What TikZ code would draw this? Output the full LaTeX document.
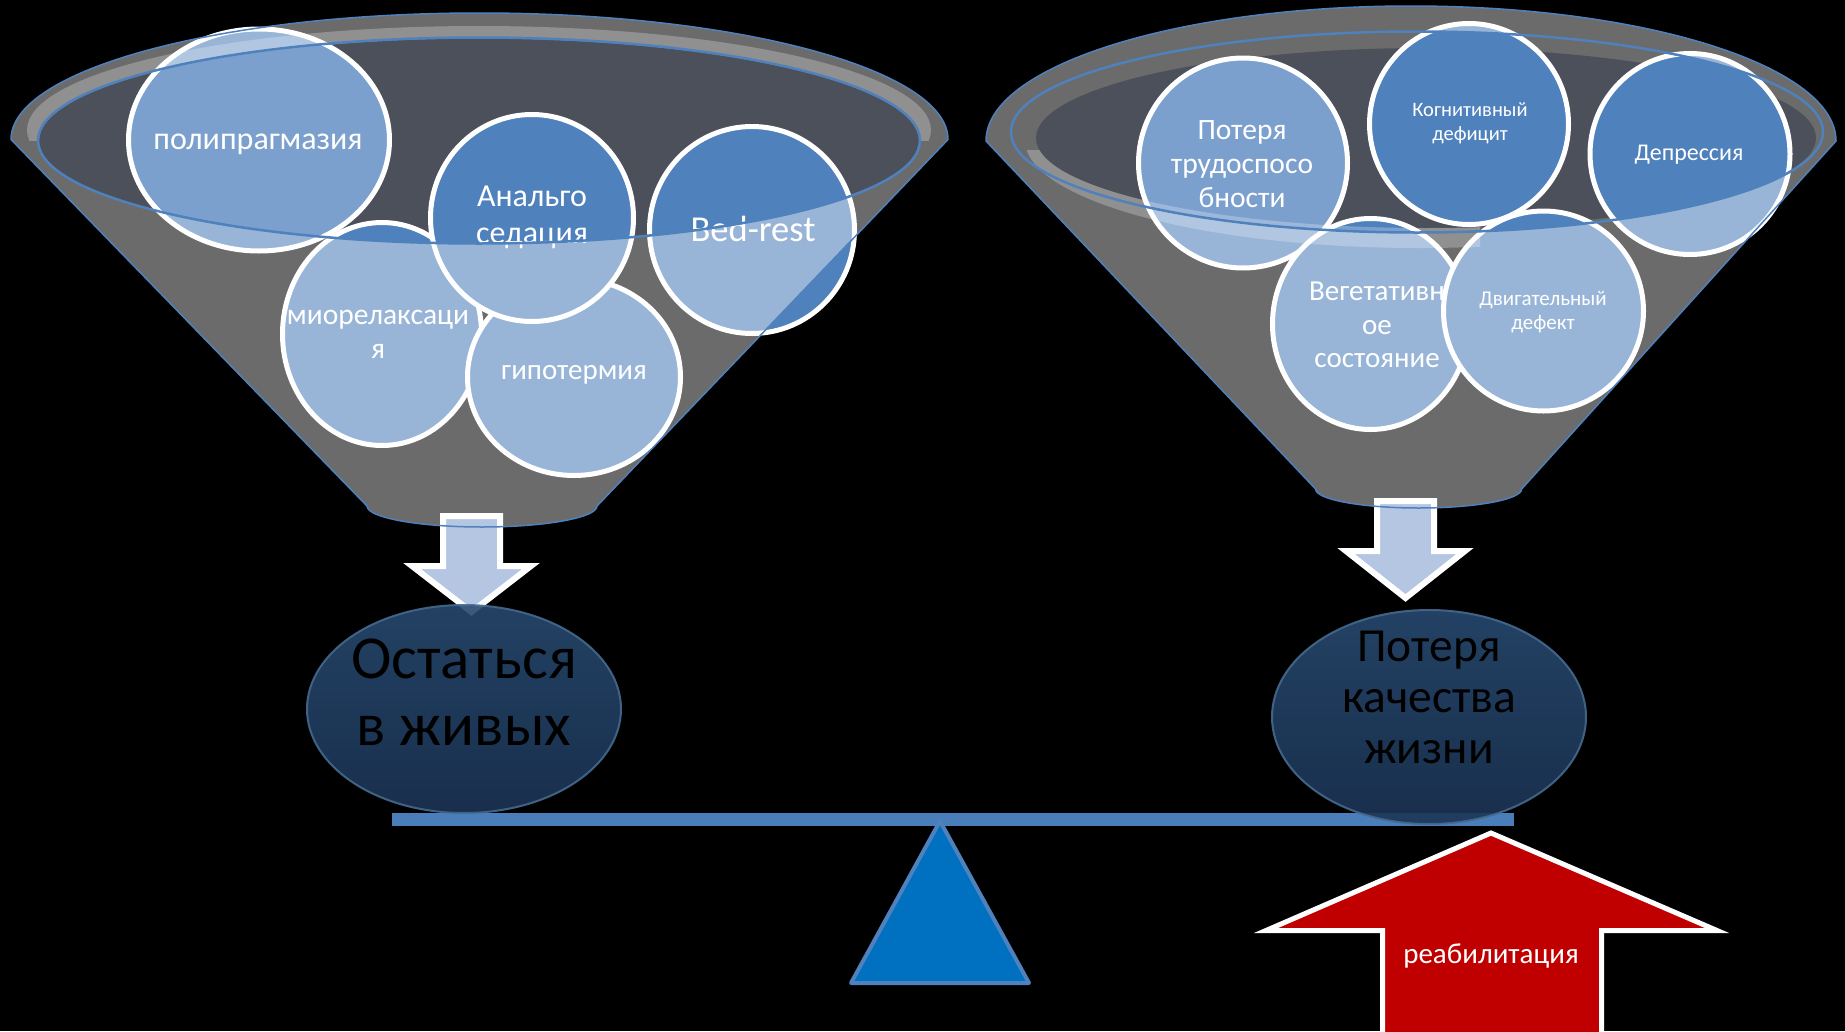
\documentclass[tikz,border=0pt]{standalone}
\usepackage{fontspec}
\setmainfont{Carlito}
\usetikzlibrary{shapes.geometric}
\definecolor{acc}{HTML}{4F81BD}
\definecolor{funnelgray}{HTML}{6B6B6B}
\definecolor{funneldark}{HTML}{4C505A}
\definecolor{arrowblue}{HTML}{B4C6E2}
\definecolor{barblue}{HTML}{4A7EBB}
\definecolor{fulcrum}{HTML}{0070C0}
\definecolor{redarrow}{HTML}{C00000}
\definecolor{navytop}{HTML}{27496F}
\definecolor{navybot}{HTML}{1C3455}
\definecolor{navyrim}{HTML}{456A8E}
\newcommand\myfs[1]{\fontsize{#1}{\dimexpr #1pt*115/100\relax}\selectfont}
\begin{document}
\begin{tikzpicture}[x=1pt,y=-1pt,
  bubble/.style={ellipse, draw=white, line width=5pt, fill=acc, inner sep=0pt, outer sep=0pt},
  btext/.style={text=white, align=center, inner sep=0pt, font=\myfs{#1}},
  bigtext/.style={text=black, align=center, inner sep=0pt},
  goal/.style={ellipse, inner sep=0pt, top color=navytop, bottom color=navybot, draw=navyrim, line width=2pt, opacity=.9},
  downarrow/.style={draw=white, line width=6pt, fill=arrowblue, line join=miter},
  veil/.style={fill=white, opacity=.42, even odd rule},
  glint/.style={fill=white, opacity=.25, even odd rule},
  rimline/.style={draw=acc, line width=2.5pt},
  edgeline/.style={draw=acc, line width=1.5pt, line join=round}]

\fill[black] (0,0) rectangle (1845,1031);
\useasboundingbox (0,0) rectangle (1845,1031);

% ---------- funnel interiors ----------
\fill[funnelgray] (479,140.5) ellipse [x radius=441, y radius=103];
\fill[funneldark] (479,141) ellipse [x radius=440, y radius=102.5];
\fill[funnelgray] (1417,132) ellipse [x radius=406, y radius=100.5];
\fill[funneldark] (1426,138) ellipse [x radius=390, y radius=90];

% ---------- left circles ----------
\node[bubble, minimum width=261pt, minimum height=222pt] (c1) at (259,140) {};
\begin{scope}
  \clip (479,140.5) ellipse [x radius=441, y radius=103];
  \fill[white, opacity=.25] (259,140) ellipse [x radius=130.5, y radius=111];
\end{scope}
\node[btext=32] (t1) at (258,144) {полипрагмазия};
\node[bubble, minimum width=199pt, minimum height=223pt] (c2) at (382,334) {};
\node[btext=29.5] (t2) at (378,334) {миорелаксаци\\я};
\node[bubble, minimum width=213pt, minimum height=197pt] (c3) at (574,377) {};
\node[btext=29] (t3) at (574,375) {гипотермия};
\node[bubble, minimum width=203pt, minimum height=207pt] (c4) at (532,218) {};
\node[btext=32] (t4) at (532,217) {Анальго\\седация};
\node[bubble, minimum width=205pt, minimum height=207pt] (c5) at (752,230) {};
\node[btext=36.5] (t5) at (753,229) {Bed-rest};

% ---------- right circles ----------
\node[bubble, minimum width=209pt, minimum height=210pt] (d1) at (1243,163) {};
\begin{scope}
  \clip (1417,132) ellipse [x radius=406, y radius=100.5];
  \fill[white, opacity=.25] (1243,163) ellipse [x radius=104.5, y radius=105];
\end{scope}
\node[btext=29.5] (u1) at (1242,164) {Потеря\\трудоспосо\\бности};
\node[bubble, minimum width=199pt, minimum height=201pt] (d2) at (1469,124) {};
\node[btext=20.5] (u2) at (1470,123.5) {Когнитивный\\дефицит};
\node[bubble, minimum width=200pt, minimum height=201pt] (d3) at (1690,154) {};
\node[btext=24] (u3) at (1689,155) {Депрессия};
\node[bubble, minimum width=196pt, minimum height=211pt] (d4) at (1370.5,324) {};
\node[btext=29] (u4) at (1377,325) {Вегетативн\\ое\\состояние};
\node[bubble, minimum width=200pt, minimum height=200pt] (d5) at (1543.5,311) {};
\node[btext=21] (u5) at (1543,312.5) {Двигательный\\дефект};

% ---------- funnel front veils ----------
\fill[veil] (11,139.5) arc[start angle=180, end angle=360, x radius=468.5, y radius=126.5]
  -- (597,506) arc[start angle=0, end angle=180, x radius=115, y radius=21] -- cycle
  (479,140.5) ellipse [x radius=441, y radius=103];
\fill[veil] (986,141) arc[start angle=180, end angle=360, x radius=425, y radius=135]
  -- (1521.6,489) arc[start angle=0, end angle=180, x radius=103, y radius=19] -- cycle
  (1417,132) ellipse [x radius=406, y radius=100.5];
\begin{scope}
  \clip (0,0) rectangle (960,140);
  \fill[glint] (479,130) ellipse [x radius=452, y radius=104] (479,141) ellipse [x radius=440, y radius=102.5];
\end{scope}
\begin{scope}
  \clip (960,150) rectangle (1480,300);
  \fill[glint] (1420,140) ellipse [x radius=395, y radius=108] (1426,138) ellipse [x radius=390, y radius=90];
\end{scope}

% ---------- down arrows ----------
\draw[downarrow] (443,516) -- (500,516) -- (500,566) -- (531,566) -- (471.5,612) -- (412,566) -- (443,566) -- cycle;
\draw[downarrow] (1377,501) -- (1434,501) -- (1434,551) -- (1465,551) -- (1405.5,598) -- (1346,551) -- (1377,551) -- cycle;

% ---------- funnel outlines ----------
\draw[edgeline] (11,139.5) arc[start angle=180, end angle=360, x radius=468.5, y radius=126.5]
  -- (597,506) arc[start angle=0, end angle=180, x radius=115, y radius=21] -- cycle;
\draw[rimline] (479,140.5) ellipse [x radius=441, y radius=103];
\draw[edgeline] (986,141) arc[start angle=180, end angle=360, x radius=425, y radius=135]
  -- (1521.6,489) arc[start angle=0, end angle=180, x radius=103, y radius=19] -- cycle;
\draw[rimline] (1417,132) ellipse [x radius=406, y radius=100.5];

% ---------- balance ----------
\fill[barblue] (392,813) rectangle (1514,826);
\draw[draw=acc, line width=4pt, fill=fulcrum, line join=round] (940,821) -- (1029,983) -- (851,983) -- cycle;

\node[goal, minimum width=314pt, minimum height=208pt] (e1) at (464,709) {};
\node[bigtext, font=\fontsize{61}{67}\selectfont] (et1) at (464,692.5) {Остаться\\в живых};
\node[goal, minimum width=314pt, minimum height=214pt] (e2) at (1429,717) {};
\node[bigtext, font=\fontsize{47.5}{51}\selectfont] (et2) at (1429,697) {Потеря\\качества\\жизни};

% ---------- rehabilitation arrow ----------
\draw[draw=white, line width=5pt, fill=redarrow, line join=miter]
  (1491,833) -- (1717,930.5) -- (1601.5,930.5) -- (1601.5,1045) -- (1382.5,1045) -- (1382.5,930.5) -- (1266,930.5) -- cycle;
\node[btext=29] (r1) at (1491,956) {реабилитация};
\end{tikzpicture}
\end{document}
